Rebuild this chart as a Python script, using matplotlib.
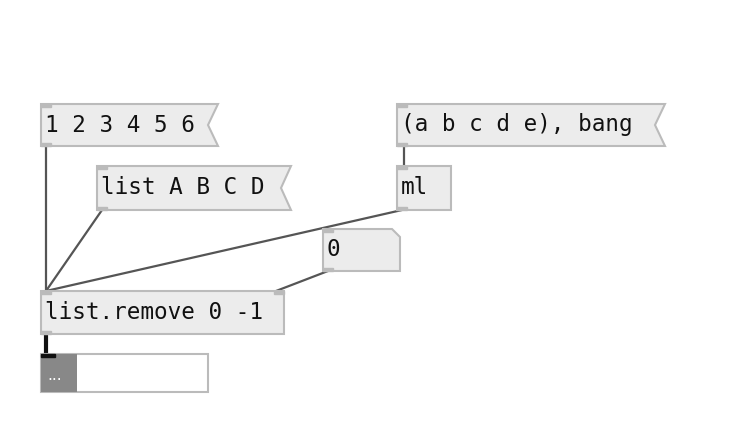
import matplotlib
matplotlib.use("Agg")
import matplotlib.pyplot as plt
from matplotlib.patches import Polygon, Rectangle

msg_labels = ["1 2 3 4 5 6", "list A B C D", "(a b c d e), bang"]
obj_labels = ["ml", "list.remove 0 -1"]
atom_value = "0"
listbox_text = "..."

fig = plt.figure(figsize=(7.53, 4.32), dpi=100)
ax = fig.add_axes([0, 0, 1, 1])
ax.set_xlim(0, 753); ax.set_ylim(432, 0); ax.axis("off")

FILL = "#ececec"; EDGE = "#bbbbbb"; IO = "#bbbbbb"
FS = 16.3

def txt(x, y, s):
    ax.text(x, y, s, fontsize=FS, family="DejaVu Sans Mono", va="center", ha="left", color="#111", zorder=5)

def iolets(x0, y0, x1, y1, right_in=False, out=True):
    ax.add_patch(Rectangle((x0, y0), 10, 3, color=IO, zorder=4))
    if right_in:
        ax.add_patch(Rectangle((x1 - 10, y0), 10, 3, color=IO, zorder=4))
    if out:
        ax.add_patch(Rectangle((x0, y1 - 3), 10, 3, color=IO, zorder=4))

def msg(x0, y0, x1, y1, s):
    pts = [(x0, y0), (x1, y0), (x1 - 10, (y0 + y1) / 2), (x1, y1), (x0, y1)]
    ax.add_patch(Polygon(pts, closed=True, fc=FILL, ec=EDGE, lw=1.5, zorder=3))
    iolets(x0, y0, x1, y1)
    txt(x0 + 4, (y0 + y1) / 2, s)

def obj(x0, y0, x1, y1, s, right_in=False):
    ax.add_patch(Rectangle((x0, y0), x1 - x0, y1 - y0, fc=FILL, ec=EDGE, lw=1.5, zorder=3))
    iolets(x0, y0, x1, y1, right_in)
    txt(x0 + 4, (y0 + y1) / 2, s)

def atom(x0, y0, x1, y1, s):
    pts = [(x0, y0), (x1 - 8, y0), (x1, y0 + 8), (x1, y1), (x0, y1)]
    ax.add_patch(Polygon(pts, closed=True, fc=FILL, ec=EDGE, lw=1.5, zorder=3))
    iolets(x0, y0, x1, y1)
    txt(x0 + 4, (y0 + y1) / 2, s)

def wire(a, b, lw=1.6, c="#555555"):
    ax.plot([a[0], b[0]], [a[1], b[1]], color=c, lw=lw, zorder=2, solid_capstyle="butt")

# connections
wire((46, 146), (46, 291))
wire((102, 210), (46, 291))
wire((402, 210), (46, 291))
wire((328, 271), (276, 291))
wire((404, 146), (404, 166))
wire((46, 334), (46, 354), lw=3, c="#111111")

msg(41, 104, 218, 146, msg_labels[0])
msg(97, 166, 291, 210, msg_labels[1])
msg(397, 104, 665, 146, msg_labels[2])
obj(397, 166, 451, 210, obj_labels[0])
atom(323, 229, 400, 271, atom_value)
obj(41, 291, 284, 334, obj_labels[1], right_in=True)

# list box
ax.add_patch(Rectangle((41, 354), 167, 38, fc="white", ec=EDGE, lw=1.5, zorder=3))
ax.add_patch(Rectangle((41, 354), 36, 38, fc="#888888", ec="none", zorder=4))
ax.add_patch(Rectangle((41, 354), 14, 3, color="#111111", zorder=5))
ax.text(47, 375, listbox_text, fontsize=11, color="white", va="center", ha="left", zorder=6)

fig.savefig("out.png", dpi=100)
